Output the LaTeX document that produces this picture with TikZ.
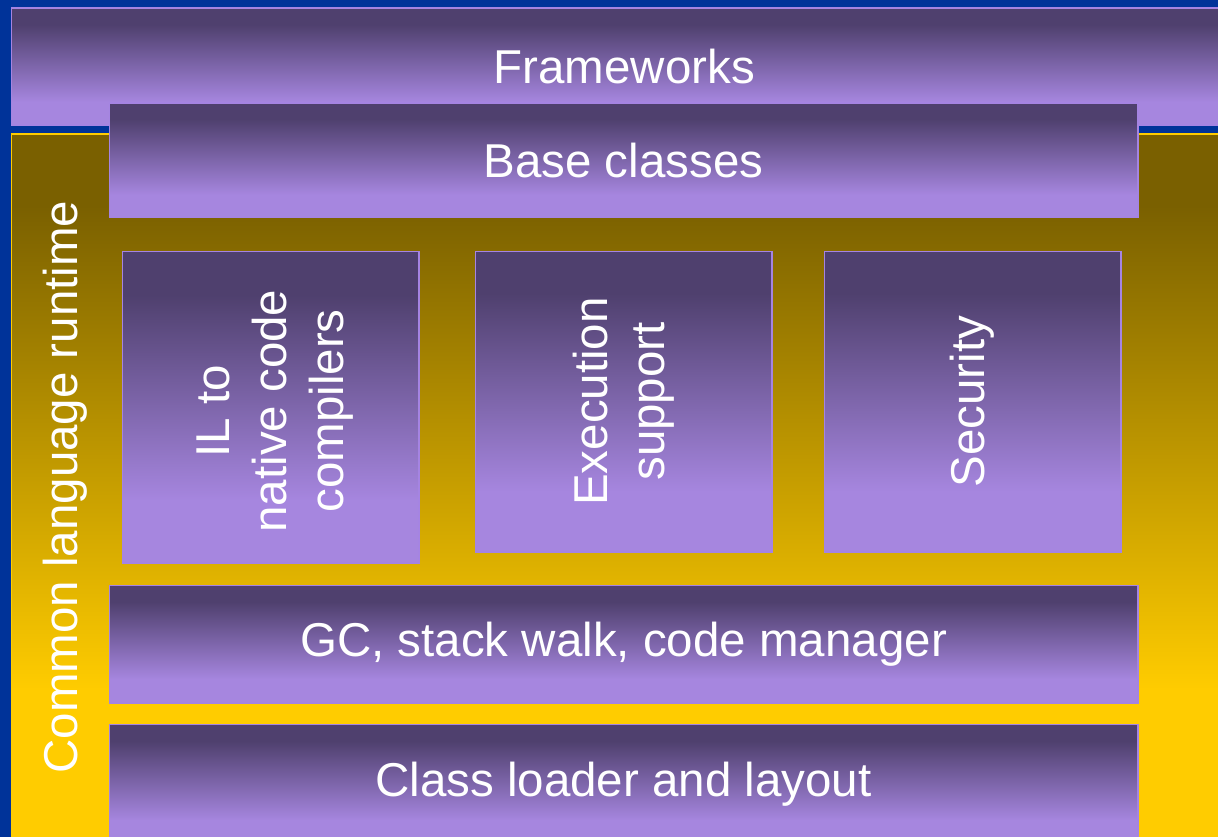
\documentclass[tikz,border=0pt]{standalone}
\usepackage{fontspec}
\setmainfont{Liberation Sans}
\definecolor{slideblue}{HTML}{003399}
\definecolor{layerdark}{HTML}{4F406E}
\definecolor{layerlight}{HTML}{A686DF}
\definecolor{layerline}{HTML}{A584E2}
\definecolor{clrdark}{HTML}{7A6000}
\definecolor{clrlight}{HTML}{FFCC00}
\pgfdeclareverticalshading{layershade}{100bp}{color(0bp)=(layerlight); color(25bp)=(layerlight); color(35bp)=(layerlight); color(68bp)=(layerdark); color(75bp)=(layerdark); color(100bp)=(layerdark)}
\pgfdeclareverticalshading{clrshade}{100bp}{color(0bp)=(clrlight); color(25bp)=(clrlight); color(36bp)=(clrlight); color(70bp)=(clrdark); color(75bp)=(clrdark); color(100bp)=(clrdark)}
\begin{document}
\begin{tikzpicture}[x=1pt, y=-1pt,
    layer/.style={rectangle, draw=layerline, line width=1.5pt, shading=layershade, inner sep=0pt, anchor=north west, text=white, align=center, font=\fontsize{47.5}{57}\selectfont},
    runtime/.style={rectangle, draw=clrlight, line width=1.5pt, shading=clrshade, inner sep=0pt, anchor=north west},
    sidetext/.style={text=white, rotate=90, align=center, inner sep=0pt, font=\fontsize{47.5}{57}\selectfont}]
    \useasboundingbox (0,0) rectangle (1218,837);
    \clip (0,0) rectangle (1218,837);
    \fill[slideblue] (0,0) rectangle (1218,837);

    \node[layer, minimum width=1226pt, minimum height=117pt] (frameworks) at (10.5,7.5) {Frameworks};
    \node[runtime, minimum width=1226pt, minimum height=712pt] (clr) at (10.5,133.5) {};
    \node[sidetext] (clr label) at (65,487) {Common language runtime};

    \node[layer, minimum width=1028.5pt, minimum height=114.5pt] (base) at (108.5,102.5) {Base classes};
    \node[layer, minimum width=296.5pt, minimum height=311.5pt] (il) at (121.5,250.5) {};
    \node[layer, minimum width=296.5pt, minimum height=300.5pt] (exec) at (474.5,250.5) {};
    \node[layer, minimum width=296.5pt, minimum height=300.5pt] (security) at (823.5,250.5) {};
    \node[sidetext] (il label) at ([xshift=5pt,yshift=-4pt]il.center) {IL to\\native code\\compilers};
    \node[sidetext] (exec label) at (exec.center) {Execution\\support};
    \node[sidetext] (security label) at (security.center) {Security};

    \node[layer, minimum width=1028.5pt, minimum height=117.5pt] (gc) at (108.5,584.5) {GC, stack walk, code manager};
    \node[layer, minimum width=1028.5pt, minimum height=120pt] (loader) at (108.5,723.5) {Class loader and layout};
\end{tikzpicture}
\end{document}
